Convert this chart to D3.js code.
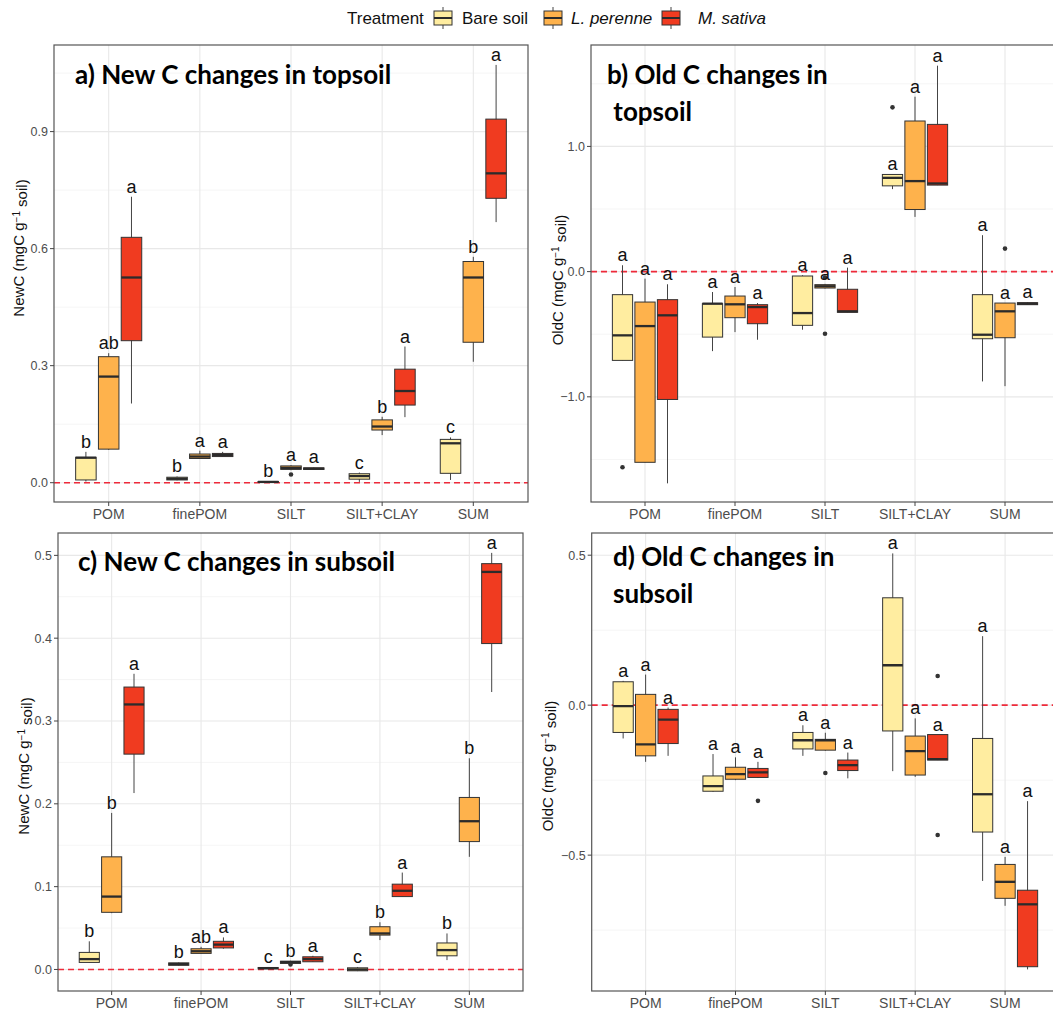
<!DOCTYPE html>
<html>
<head>
<meta charset="utf-8">
<script src="https://cdn.jsdelivr.net/npm/d3@7"></script>
<style>
  body { margin: 0; background: #fff; }
  svg { display: block; }
</style>
</head>
<body>
<div id="chart"></div>
<script>
const categories = ["POM", "finePOM", "SILT", "SILT+CLAY", "SUM"];
const treatments = ["Bare soil", "L. perenne", "M. sativa"];
const fills = ["#FFEDA0", "#FEB24C", "#F03B20"];

// box stats per category x treatment: [lower whisker, q1, median, q3, upper whisker]
const newTopStats = [
  [0.003, 0.007, 0.064, 0.065, 0.079], [0.084, 0.086, 0.272, 0.323, 0.332], [0.203, 0.364, 0.526, 0.629, 0.733],
  [0.006, 0.007, 0.010, 0.014, 0.016], [0.061, 0.062, 0.067, 0.0735, 0.082], [0.066, 0.067, 0.071, 0.075, 0.079],
  [0.000, 0.001, 0.002, 0.003, 0.004], [0.032, 0.034, 0.038, 0.043, 0.045], [0.033, 0.034, 0.036, 0.038, 0.039],
  [0.002, 0.009, 0.017, 0.023, 0.026], [0.122, 0.135, 0.144, 0.161, 0.169], [0.168, 0.199, 0.235, 0.291, 0.349],
  [0.007, 0.024, 0.101, 0.111, 0.116], [0.310, 0.360, 0.526, 0.567, 0.579], [0.668, 0.729, 0.793, 0.932, 1.071]
];
const newTopOutliers = [[2, 1, 0.021]];
const newTopLetters = ["b", "ab", "a", "b", "a", "a", "b", "a", "a", "c", "b", "a", "c", "b", "a"];

const oldTopStats = [
  [-0.709, -0.709, -0.509, -0.184, 0.051], [-1.523, -1.523, -0.435, -0.243, -0.056], [-1.691, -1.021, -0.349, -0.224, -0.101],
  [-0.635, -0.523, -0.256, -0.256, -0.163], [-0.483, -0.368, -0.261, -0.195, -0.123], [-0.544, -0.416, -0.283, -0.264, -0.251],
  [-0.464, -0.429, -0.331, -0.035, -0.029], [-0.135, -0.131, -0.117, -0.104, -0.098], [-0.325, -0.325, -0.317, -0.141, 0.032],
  [0.659, 0.685, 0.749, 0.776, 0.776], [0.437, 0.496, 0.723, 1.203, 1.397], [0.691, 0.691, 0.704, 1.176, 1.645],
  [-0.877, -0.536, -0.504, -0.184, 0.291], [-0.915, -0.528, -0.317, -0.251, -0.251], [-0.266, -0.264, -0.256, -0.248, -0.246]
];
const oldTopOutliers = [[0, 0, -1.563], [2, 1, -0.048], [2, 1, -0.496], [3, 0, 1.312], [4, 1, 0.184]];
const oldTopLetters = Array(15).fill("a");

const newSubStats = [
  [0.008, 0.0085, 0.0125, 0.0206, 0.034], [0.068, 0.069, 0.088, 0.136, 0.189], [0.213, 0.260, 0.320, 0.341, 0.357],
  [0.0045, 0.005, 0.0065, 0.008, 0.0085], [0.019, 0.0194, 0.022, 0.025, 0.0274], [0.025, 0.026, 0.030, 0.034, 0.0387],
  [0.0005, 0.0008, 0.0016, 0.0024, 0.003], [0.0073, 0.0073, 0.0089, 0.010, 0.0105], [0.009, 0.0093, 0.0125, 0.0153, 0.0165],
  [-0.002, -0.0016, 0.000, 0.002, 0.003], [0.0355, 0.0415, 0.0435, 0.0516, 0.057], [0.088, 0.088, 0.095, 0.103, 0.117],
  [0.0113, 0.0165, 0.0234, 0.032, 0.0435], [0.136, 0.1544, 0.179, 0.2077, 0.255], [0.335, 0.3935, 0.480, 0.490, 0.503]
];
const newSubOutliers = [[2, 1, 0.006]];
const newSubLetters = ["b", "b", "a", "b", "ab", "a", "c", "b", "a", "c", "b", "a", "b", "b", "a"];

const oldSubStats = [
  [-0.111, -0.091, -0.003, 0.078, 0.081], [-0.189, -0.169, -0.131, 0.036, 0.102], [-0.169, -0.128, -0.048, -0.014, -0.008],
  [-0.289, -0.287, -0.270, -0.236, -0.163], [-0.250, -0.247, -0.230, -0.207, -0.174], [-0.243, -0.241, -0.224, -0.211, -0.189],
  [-0.169, -0.146, -0.117, -0.091, -0.067], [-0.152, -0.150, -0.117, -0.114, -0.092], [-0.244, -0.218, -0.200, -0.183, -0.158],
  [-0.220, -0.086, 0.133, 0.358, 0.506], [-0.239, -0.233, -0.153, -0.103, -0.044], [-0.183, -0.183, -0.180, -0.098, -0.098],
  [-0.586, -0.423, -0.297, -0.111, 0.230], [-0.669, -0.644, -0.589, -0.531, -0.506], [-0.881, -0.872, -0.664, -0.617, -0.320]
];
const oldSubOutliers = [[1, 2, -0.319], [2, 1, -0.226], [3, 2, 0.097], [3, 2, -0.433]];
const oldSubLetters = Array(15).fill("a");

const newTicks = [0, 0.3, 0.6, 0.9];
const oldTopTicks = [-1, 0, 1];
const newSubTicks = [0, 0.1, 0.2, 0.3, 0.4, 0.5];
const oldSubTicks = [-0.5, 0, 0.5];

const panels = [
  { stats: newTopStats, outliers: newTopOutliers, letters: newTopLetters, ticks: newTicks,
    domain: [-0.0495, 1.122], rect: [54, 45, 528, 502], ylab: "NewC", ylabX: 19, ylabY: 248,
    title: ["a) New C changes in topsoil"], titleX: 75, titleY: 84 },
  { stats: oldTopStats, outliers: oldTopOutliers, letters: oldTopLetters, ticks: oldTopTicks,
    domain: [-1.84, 1.81], rect: [591, 45, 1059, 502], ylab: "OldC", ylabX: 558, ylabY: 280,
    title: ["b) Old C changes in", " topsoil"], titleX: 607, titleY: 84 },
  { stats: newSubStats, outliers: newSubOutliers, letters: newSubLetters, ticks: newSubTicks,
    domain: [-0.026, 0.527], rect: [58, 533, 523, 991], ylab: "NewC", ylabX: 24, ylabY: 766,
    title: ["c) New C changes in subsoil"], titleX: 78, titleY: 571 },
  { stats: oldSubStats, outliers: oldSubOutliers, letters: oldSubLetters, ticks: oldSubTicks,
    domain: [-0.953, 0.574], rect: [591.7, 533, 1059, 991], ylab: "OldC", ylabX: 548, ylabY: 766,
    title: ["d) Old C changes in", "subsoil"], titleX: 613, titleY: 566 }
];

const width = 1053, height = 1014;
const font = "'Liberation Sans', Arial, sans-serif";

const svg = d3.select("#chart").append("svg")
  .attr("width", width)
  .attr("height", height)
  .style("font-family", font);

const drawPanel = (p) => {
  const [x0, y0, x1, y1] = p.rect;
  const g = svg.append("g");

  const x = d3.scalePoint().domain(categories).range([x0, x1]).padding(0.6);
  const y = d3.scaleLinear().domain(p.domain).range([y1, y0]);
  const step = x.step();
  const dodge = step * 0.25;
  const bw = dodge * 0.9;

  // minor ticks at midpoints
  const tstep = p.ticks[1] - p.ticks[0];
  const minor = d3.range(p.ticks[0] - tstep / 2, p.domain[1], tstep).filter(v => v > p.domain[0]);

  const clip = "clip" + Math.round(x0) + Math.round(y0);
  g.append("clipPath").attr("id", clip)
    .append("rect").attr("x", x0).attr("y", y0).attr("width", x1 - x0).attr("height", y1 - y0);

  const grid = g.append("g").attr("clip-path", `url(#${clip})`);
  grid.selectAll(".minor").data(minor).join("line")
    .attr("x1", x0).attr("x2", x1)
    .attr("y1", d => y(d)).attr("y2", d => y(d))
    .attr("stroke", "#F3F3F3").attr("stroke-width", 0.8);
  grid.selectAll(".major").data(p.ticks).join("line")
    .attr("x1", x0).attr("x2", x1)
    .attr("y1", d => y(d)).attr("y2", d => y(d))
    .attr("stroke", "#E8E8E8").attr("stroke-width", 1.1);
  grid.selectAll(".vmajor").data(categories).join("line")
    .attr("x1", d => x(d)).attr("x2", d => x(d))
    .attr("y1", y0).attr("y2", y1)
    .attr("stroke", "#E8E8E8").attr("stroke-width", 1.1);

  // zero line
  grid.append("line")
    .attr("x1", x0).attr("x2", x1)
    .attr("y1", y(0)).attr("y2", y(0))
    .attr("stroke", "#EE2A3A").attr("stroke-width", 1.6)
    .attr("stroke-dasharray", "6,4");

  const boxes = p.stats.map((s, i) => ({
    cat: categories[Math.floor(i / 3)], t: i % 3, s, letter: p.letters[i]
  }));
  const cx = d => x(d.cat) + (d.t - 1) * dodge;

  const bx = grid.selectAll(".box").data(boxes).join("g");
  bx.append("line")
    .attr("x1", cx).attr("x2", cx)
    .attr("y1", d => y(d.s[0])).attr("y2", d => y(d.s[4]))
    .attr("stroke", "#444").attr("stroke-width", 1);
  bx.append("rect")
    .attr("x", d => cx(d) - bw / 2)
    .attr("width", bw)
    .attr("y", d => y(d.s[3]))
    .attr("height", d => Math.max(0.5, y(d.s[1]) - y(d.s[3])))
    .attr("fill", d => fills[d.t])
    .attr("stroke", "#333").attr("stroke-width", 1);
  bx.append("line")
    .attr("x1", d => cx(d) - bw / 2).attr("x2", d => cx(d) + bw / 2)
    .attr("y1", d => y(d.s[2])).attr("y2", d => y(d.s[2]))
    .attr("stroke", "#2b2b2b").attr("stroke-width", 2.3);

  grid.selectAll(".out").data(p.outliers).join("circle")
    .attr("cx", d => x(categories[d[0]]) + (d[1] - 1) * dodge)
    .attr("cy", d => y(d[2]))
    .attr("r", 2.3)
    .attr("fill", "#333");

  g.selectAll(".letter").data(boxes).join("text")
    .attr("x", cx)
    .attr("y", d => y(d.s[4]) - 4)
    .attr("text-anchor", "middle")
    .style("font-size", "18px")
    .attr("fill", "#111")
    .text(d => d.letter);

  // panel border
  g.append("rect")
    .attr("x", x0).attr("y", y0)
    .attr("width", x1 - x0).attr("height", y1 - y0)
    .attr("fill", "none").attr("stroke", "#555").attr("stroke-width", 1.2);

  // y axis
  const fmt = d3.format(".1f");
  g.selectAll(".ytick").data(p.ticks).join("line")
    .attr("x1", x0 - 4).attr("x2", x0)
    .attr("y1", d => y(d)).attr("y2", d => y(d))
    .attr("stroke", "#444");
  g.selectAll(".ylabel").data(p.ticks).join("text")
    .attr("x", x0 - 6)
    .attr("y", d => y(d))
    .attr("dy", "0.35em")
    .attr("text-anchor", "end")
    .attr("fill", "#4D4D4D")
    .style("font-size", "12.5px")
    .text(fmt);

  // x axis
  g.selectAll(".xtick").data(categories).join("line")
    .attr("x1", d => x(d)).attr("x2", d => x(d))
    .attr("y1", y1).attr("y2", y1 + 4)
    .attr("stroke", "#444");
  g.selectAll(".xlabel").data(categories).join("text")
    .attr("x", d => x(d))
    .attr("y", y1 + 17)
    .attr("text-anchor", "middle")
    .attr("fill", "#4D4D4D")
    .style("font-size", "14px")
    .text(d => d);

  // y title
  const yt = g.append("text")
    .attr("transform", `translate(${p.ylabX},${p.ylabY}) rotate(-90)`)
    .attr("text-anchor", "middle")
    .attr("dy", "0.35em")
    .style("font-size", "15px")
    .attr("fill", "#111");
  yt.append("tspan").text(p.ylab + " (mgC g");
  yt.append("tspan").attr("dy", "-0.45em").style("font-size", "10px").text("\u22121");
  yt.append("tspan").attr("dy", "0.45em").text(" soil)");

  // panel title
  g.selectAll(".ptitle").data(p.title).join("text")
    .attr("x", p.titleX)
    .attr("y", (d, i) => p.titleY + i * 37)
    .style("font-family", "Lato, 'Open Sans', sans-serif")
    .style("font-weight", "bold")
    .style("font-size", "26px")
    .style("white-space", "pre")
    .attr("xml:space", "preserve")
    .attr("fill", "#000")
    .text(d => d);
};

panels.forEach(drawPanel);

// legend
const legend = svg.append("g").attr("transform", "translate(0,0)");
legend.append("text")
  .attr("x", 347).attr("y", 24)
  .style("font-size", "17px")
  .attr("fill", "#111")
  .text("Treatment");
const keyX = [433, 543, 661];
const labX = [462, 571, 698];
treatments.forEach((t, i) => {
  const k = legend.append("g").attr("transform", `translate(${keyX[i]},0)`);
  k.append("line").attr("x1", 10).attr("x2", 10).attr("y1", 7).attr("y2", 29)
    .attr("stroke", "#444");
  k.append("rect").attr("x", 1).attr("y", 11).attr("width", 18).attr("height", 14)
    .attr("fill", fills[i]).attr("stroke", "#333");
  k.append("line").attr("x1", 1).attr("x2", 19).attr("y1", 18).attr("y2", 18)
    .attr("stroke", "#2b2b2b").attr("stroke-width", 2);
  legend.append("text")
    .attr("x", labX[i]).attr("y", 24)
    .style("font-size", "17px")
    .style("font-style", i > 0 ? "italic" : "normal")
    .attr("fill", "#111")
    .text(t);
});
</script>
</body>
</html>
